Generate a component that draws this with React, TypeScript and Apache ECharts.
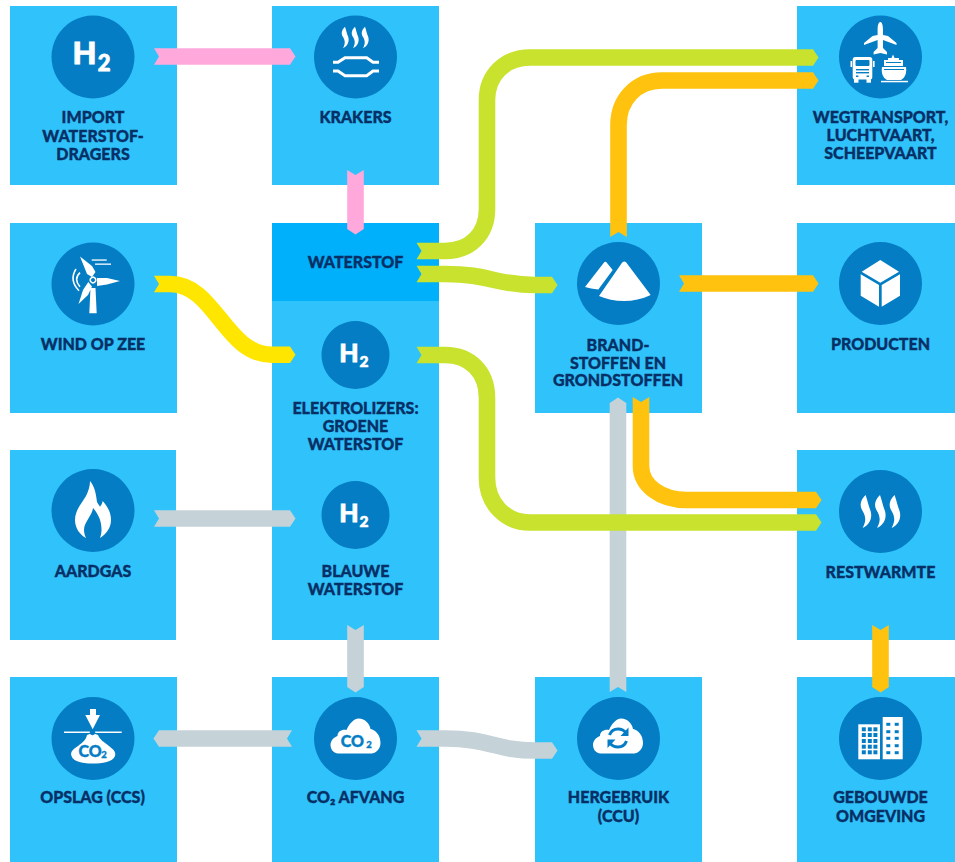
import React, { useEffect, useRef } from "react";
import * as echarts from "echarts";

// ---- content ----
const importLabel = ["IMPORT", "WATERSTOF-", "DRAGERS"];
const krakersLabel = ["KRAKERS"];
const transportLabel = ["WEGTRANSPORT,", "LUCHTVAART,", "SCHEEPVAART"];
const windLabel = ["WIND OP ZEE"];
const waterstofLabel = ["WATERSTOF"];
const elektroLabel = ["ELEKTROLIZERS:", "GROENE", "WATERSTOF"];
const brandLabel = ["BRAND-", "STOFFEN EN", "GRONDSTOFFEN"];
const productenLabel = ["PRODUCTEN"];
const aardgasLabel = ["AARDGAS"];
const blauweLabel = ["BLAUWE", "WATERSTOF"];
const restLabel = ["RESTWARMTE"];
const opslagLabel = ["OPSLAG (CCS)"];
const afvangLabel = ["CO₂ AFVANG"];
const ccuLabel = ["HERGEBRUIK", "(CCU)"];
const gebouwLabel = ["GEBOUWDE", "OMGEVING"];

const C = {
  box: "#30c2fa", boxDark: "#00b0fa", circle: "#047dc4", text: "#062f66",
  pink: "#ffa8dc", yellow: "#ffe600", grey: "#c5d2d8", lime: "#c8e22e", orange: "#ffc20e",
};
const FONT = "Lato, 'Noto Sans', sans-serif";
const RW = 16.6;

type P = [number, number];
const ribbonDefs: { c: string; s: P; e: P; d: P; dE?: P; mid?: string }[] = [
  { c: C.pink, s: [154, 56.5], e: [290, 56.5], d: [1, 0] },
  { c: C.pink, s: [355.5, 170], e: [355.5, 229], d: [0, 1] },
  { c: C.yellow, s: [154, 284], e: [290, 354.7], d: [1, 0], mid: "L170 284 C215 284 225 354.7 272 354.7" },
  { c: C.grey, s: [154, 518.5], e: [290, 518.5], d: [1, 0] },
  { c: C.grey, s: [355.5, 625], e: [355.5, 687], d: [0, 1] },
  { c: C.grey, s: [292, 738.5], e: [159, 738.5], d: [-1, 0] },
  { c: C.grey, s: [416.5, 738.5], e: [552, 750.5], d: [1, 0], mid: "L445 738.5 C490 738.5 495 750.5 535 750.5" },
  { c: C.grey, s: [618, 692], e: [618, 403], d: [0, -1] },
  { c: C.orange, s: [618.5, 237], e: [813, 80.5], d: [0, -1], dE: [1, 0], mid: "L618.5 125 C618.5 100 636 80.5 662 80.5" },
  { c: C.orange, s: [679, 283.5], e: [813, 283.5], d: [1, 0] },
  { c: C.orange, s: [641, 397], e: [816, 500], d: [0, 1], dE: [1, 0], mid: "L641 466 C641 485 660 500 687 500" },
  { c: C.orange, s: [880.5, 625], e: [880.5, 687], d: [0, 1] },
  { c: C.lime, s: [416.5, 251], e: [813, 57.5], d: [1, 0], mid: "L445 251 C470 251 487 234 487 209 L487 100 C487 75 505 57.5 530 57.5" },
  { c: C.lime, s: [416.5, 274], e: [552, 285], d: [1, 0], mid: "L445 274 C490 274 495 285 535 285" },
  { c: C.lime, s: [416.5, 355], e: [816, 522.5], d: [1, 0], mid: "L445 355 C470 355 487 372 487 398 L487 478 C487 503 505 522.5 530 522.5" },
];

const STEAM = "M0 0 C-6 6 -6 11 -3 16 C0 21 1 26 -3 33 C4 30 7 23 5 16 C3 11 2 6 0 0Z";
const FLAME = "M90 481 C95 487 96 494 97 502 C98 504 99 505 100 506.7 C101.5 505 102.3 503 102.7 501 C108 507 111 513 111 520 C111 528 106 534 100 538 C103 530 102 518 93 508 C92 516 84 522 84 530 C84 533 85 536 86 538 C80 535 75 528 75 520 C75 510 82 503 86 496 C88.5 491 90 486 90 481 Z";
const PLANE = "M880.3 22 C882 22 883 25 883 30 V35 L888 36 L896.5 43 V45 L883 40 V48 L887 52 V54.5 L880.3 53 L873.6 54.5 V52 L877.6 48 V40 L864 45 V43 L872.6 36 L877.6 35 V30 C877.6 25 878.6 22 880.3 22Z";
const HULL = "M882 67 H906 C907 73 905 78 901 80 H887 C883 78 881 73 882 67 Z M893 54.5 L894.5 58 H899 V60 H903 V66 H884 V60 H888 V58 H891.5 Z";
const CUBE = "M880.3 260 L899 271.7 L880.3 282.7 L861.7 271.7 Z M860.7 274.3 L879 285 V306.7 L860.7 295.7 Z M881.7 285 L900 274.3 V295.7 L881.7 306.7 Z";
const PILES = "M624.3 261.5 C625.5 261.5 626.5 262.5 627 263.5 L650.7 295 C642 299 633 301 624 301 C615 301 606 299 599 296 L621.5 263.5 C622 262.5 623 261.5 624.3 261.5Z M606 261.7 L612.7 270 L598.3 289.5 C593 289 589 288.3 585 287 L604 262.5 C604.5 261.9 605.3 261.5 606 261.7Z";
const TURBINE = "M80 256.5 L92 266 L95.5 272 L92 277 L87 274 Z M120 281 L107 278 L97 278 L97 286 L107 284.5 Z M78.5 304 L83 290 L88.3 282 L92 286.5 L88 295 Z M90.5 288 H95.5 L96.7 313.3 H89.3 Z";
const WAVES = "M76 269 C71.5 276 71.5 283 79 290.7 M80 272.7 C75.5 277 75.5 282 80 286.7";
const CLOUD = "M-17 17.5 C-23 17.5 -25 12 -25 9 C-25 4 -21 1 -18 0 C-18 -5 -13 -7 -9 -6 C-6 -13 -1 -17.5 3 -17.5 C10 -17.5 14 -12 15 -7 C20 -6 25 -1 25 7 C25 13 20 17.5 16 17.5 Z";
const PIPES = "M333 62.3 H338 L345 57.7 H366.7 L373 62.3 H379 M333 71 H338 L345 75.7 H366.7 L373 71 H379";
const ARROW = "M90 709 H96 V715 H100 L92.7 729.3 L85.3 715 H90 Z";
const BAG = "M92.5 733 L98 735 C100 740 104 742 109 746 C114 750 116 752 115 756 C113 762 102 763.5 93 763.5 C84 763.5 73 762 71.5 756 C70 752 73 749 78 746 C82 743 86 740 87 735 Z";
const REFRESH = "M609.5 735 C611 731 614 729 618 729 C621 729 624 730 626 733 M626.5 741 C625 745 622 747 618 747 C615 747 612 746 610 743";
const REFRESH_HEADS = "M628.5 727.5 V736 H620.5 Z M607.5 748 V739.5 H615.5 Z";

const shapes: Record<string, string> = {
  steam: STEAM, flame: FLAME, plane: PLANE, hull: HULL, cube: CUBE, piles: PILES,
  turbine: TURBINE, waves: WAVES, cloud: CLOUD, pipes: PIPES, arrow: ARROW, bag: BAG,
  refresh: REFRESH, refreshHeads: REFRESH_HEADS,
};
let registered = false;
function registerAll() {
  if (registered) return;
  registered = true;
  Object.keys(shapes).forEach((k) => echarts.graphic.registerShape(k, echarts.graphic.extendPath(shapes[k], {})));
  ribbonDefs.forEach((r, i) => {
    const d0 = r.d;
    const d = `M${r.s[0] + d0[0] * 5.5} ${r.s[1] + d0[1] * 5.5} ${r.mid || ""} L${r.e[0]} ${r.e[1]}`;
    echarts.graphic.registerShape("ribbon" + i, echarts.graphic.extendPath(d, {}));
  });
}

function ribbon(r: (typeof ribbonDefs)[number], i: number): any[] {
  const hw = RW / 2;
  const dS = r.d, dE = r.dE || r.d;
  const nS: P = [-dS[1], dS[0]], nE: P = [-dE[1], dE[0]];
  const at = (o: P, d: P, n: P, a: number, b: number): number[] => [o[0] + d[0] * a + n[0] * b, o[1] + d[1] * a + n[1] * b];
  return [
    { type: "ribbon" + i, style: { fill: "none", stroke: r.c, lineWidth: RW } },
    { type: "polygon", shape: { points: [at(r.s, dS, nS, 0, hw), at(r.s, dS, nS, 6, hw), at(r.s, dS, nS, 6, -hw), at(r.s, dS, nS, 0, -hw), at(r.s, dS, nS, 5, 0)] }, style: { fill: r.c } },
    { type: "polygon", shape: { points: [at(r.e, dE, nE, -0.5, hw), at(r.e, dE, nE, 0, hw), at(r.e, dE, nE, 5.5, 0), at(r.e, dE, nE, 0, -hw), at(r.e, dE, nE, -0.5, -hw)] }, style: { fill: r.c } },
  ];
}

const rect = (x: number, y: number, w: number, h: number, fill: string, r = 0) => ({ type: "rect", shape: { x, y, width: w, height: h, r }, style: { fill } });
const circle = (cx: number, cy: number, r: number, fill: string = C.circle) => ({ type: "circle", shape: { cx, cy, r }, style: { fill } });
const txt = (text: string, x: number, y: number, size: number, fill: string = C.text, weight: number = 900, sw: number = 0.35) => ({
  type: "text", x, y, style: { text, fill, stroke: fill, lineWidth: sw, fontFamily: FONT, fontSize: size, fontWeight: weight, align: "center", verticalAlign: "middle" },
});
const label = (lines: string[], x: number, ys: number[]) => lines.map((l, i) => txt(l, x, ys[i] - 0.6, 16));
const white = { fill: "#fff" };

function h2(cx: number, cy: number, big: boolean) {
  return big
    ? [txt("H", cx - 6.5, cy - 5, 31, "#fff", 900, 0.9), txt("2", cx + 13, cy + 5.5, 22, "#fff", 900, 0.8)]
    : [txt("H", cx - 4.5, cy - 3.5, 25, "#fff", 900, 0.8), txt("2", cx + 10.5, cy + 6, 15.5, "#fff", 900, 0.6)];
}
const steam = (x: number, y: number, s: number) => ({ type: "steam", x, y, scaleX: s, scaleY: s, style: white });

function buildGraphics() {
  const els: any[] = [];
  // tiles
  els.push(rect(10, 6, 167, 179, C.box), rect(272, 6, 167, 179, C.box), rect(797, 6, 170, 179, C.box));
  els.push(rect(10, 223, 167, 190, C.box), rect(272, 223, 167, 417, C.box), rect(272, 223, 167, 78, C.boxDark));
  els.push(rect(535, 223, 167, 190, C.box), rect(797, 223, 170, 190, C.box));
  els.push(rect(10, 450, 166, 190, C.box), rect(797, 450, 170, 190, C.box));
  els.push(rect(10, 677, 167, 185, C.box), rect(272, 677, 167, 185, C.box), rect(535, 677, 167, 185, C.box), rect(797, 677, 170, 185, C.box));
  // circles
  ([[93, 57], [355.5, 57], [880.5, 57], [93, 284], [618.5, 283.5], [880.5, 283.5], [93, 510.5], [880.5, 511.5], [93, 738.5], [355.5, 738.5], [618.5, 738.5], [880.5, 738.5]] as P[])
    .forEach((p) => els.push(circle(p[0], p[1], 41.5)));
  els.push(circle(355.5, 355, 34), circle(355.5, 515, 34));

  // ribbons
  ribbonDefs.forEach((r, i) => els.push(...ribbon(r, i)));

  // H2 icons
  els.push(...h2(91, 57, true), ...h2(353.5, 355, false), ...h2(353.5, 515, false));
  // krakers
  [345, 355, 365].forEach((x) => els.push(steam(x, 26.7, 0.65)));
  els.push({ type: "pipes", style: { fill: "none", stroke: "#fff", lineWidth: 3 } });
  // transport
  els.push({ type: "plane", style: white });
  els.push(rect(852.7, 57, 19.6, 22.5, "#fff", 2.5), rect(855.5, 60, 14, 6, C.circle, 1), rect(856, 69, 13, 1.4, C.circle), rect(856, 72, 13, 1.4, C.circle),
    rect(854, 78, 4.5, 4.7, "#fff"), rect(866.5, 78, 4.5, 4.7, "#fff"), rect(850.5, 61, 1.6, 6, "#fff"), rect(873, 61, 1.6, 6, "#fff"), rect(856, 75.5, 2.4, 1.5, C.circle), rect(866.6, 75.5, 2.4, 1.5, C.circle));
  els.push({ type: "hull", style: white }, rect(886, 62, 15, 1, C.circle), rect(881, 80.8, 27, 1.5, "#fff"), rect(884, 69, 20, 1, C.circle));
  // wind
  els.push({ type: "turbine", style: white }, { type: "waves", style: { fill: "none", stroke: "#fff", lineWidth: 1.6 } });
  els.push(circle(93, 280, 3.6, "#fff"), circle(93, 280, 2, C.circle));
  els.push(rect(91.7, 259.4, 15, 1.3, "#fff"), rect(95, 263.5, 16, 1.3, "#fff"));
  // piles / cube / flame
  els.push({ type: "piles", style: white }, { type: "cube", style: white }, { type: "flame", style: white });
  // rest heat
  [865.6, 880, 894.6].forEach((x) => els.push(steam(x, 495, 1)));
  // opslag
  els.push({ type: "arrow", style: white }, rect(64, 731.6, 57.7, 1.5, "#fff"), { type: "bag", style: white }, circle(92.5, 732.4, 2.8, C.circle));
  els.push(txt("CO", 90, 750.5, 16, C.circle, 900), txt("2", 104, 754, 9.5, C.circle, 900));
  // afvang
  els.push({ type: "cloud", x: 355.5, y: 736, style: white });
  els.push(txt("CO", 352.3, 740.5, 16, C.circle, 900), txt("2", 369, 744.5, 9.5, C.circle, 900));
  // ccu
  els.push({ type: "cloud", x: 618, y: 736, style: white });
  els.push({ type: "refresh", style: { fill: "none", stroke: C.circle, lineWidth: 3 } }, { type: "refreshHeads", style: { fill: C.circle } });
  // buildings
  els.push(rect(858.3, 724.3, 21.7, 35, "#fff"), rect(882.7, 717, 20, 42.3, "#fff"));
  [861.8, 867.8, 873.4].forEach((x) => [727.3, 733, 739, 744.7, 750.3].forEach((y) => els.push(rect(x, y, 4, 4, C.circle))));
  [886.3, 894.7].forEach((x) => [722.8, 730.2, 736.8, 744.2, 751.2].forEach((y) => els.push(rect(x, y, 4, 3, C.circle))));

  // labels
  els.push(...label(importLabel, 93, [117.5, 136, 154.5]));
  els.push(...label(krakersLabel, 355.5, [117.5]));
  els.push(...label(transportLabel, 880.5, [117.5, 135, 153]));
  els.push(...label(windLabel, 93, [344]));
  els.push(...label(waterstofLabel, 355.5, [262.5]));
  els.push(...label(elektroLabel, 355.5, [408.5, 426.5, 444.5]));
  els.push(...label(brandLabel, 618, [345, 362.7, 380]));
  els.push(...label(productenLabel, 880.5, [344]));
  els.push(...label(aardgasLabel, 93, [571.5]));
  els.push(...label(blauweLabel, 355.5, [571.5, 589.5]));
  els.push(...label(restLabel, 880.5, [572.3]));
  els.push(...label(opslagLabel, 92.5, [797.3]));
  els.push(...label(afvangLabel, 355.5, [797.3]));
  els.push(...label(ccuLabel, 618.5, [797.3, 815.7]));
  els.push(...label(gebouwLabel, 880.5, [797.3, 815.7]));
  return els;
}

export default function App() {
  const ref = useRef<HTMLDivElement>(null);
  useEffect(() => {
    document.body.style.margin = "0";
    document.body.style.background = "#fff";
    registerAll();
    const chart = echarts.init(ref.current!, null, { renderer: "svg" });
    chart.setOption({ animation: false, backgroundColor: "#ffffff", graphic: { elements: buildGraphics() } });
    return () => chart.dispose();
  }, []);
  return <div ref={ref} style={{ width: 955, height: 862, overflow: "hidden" }} />;
}
